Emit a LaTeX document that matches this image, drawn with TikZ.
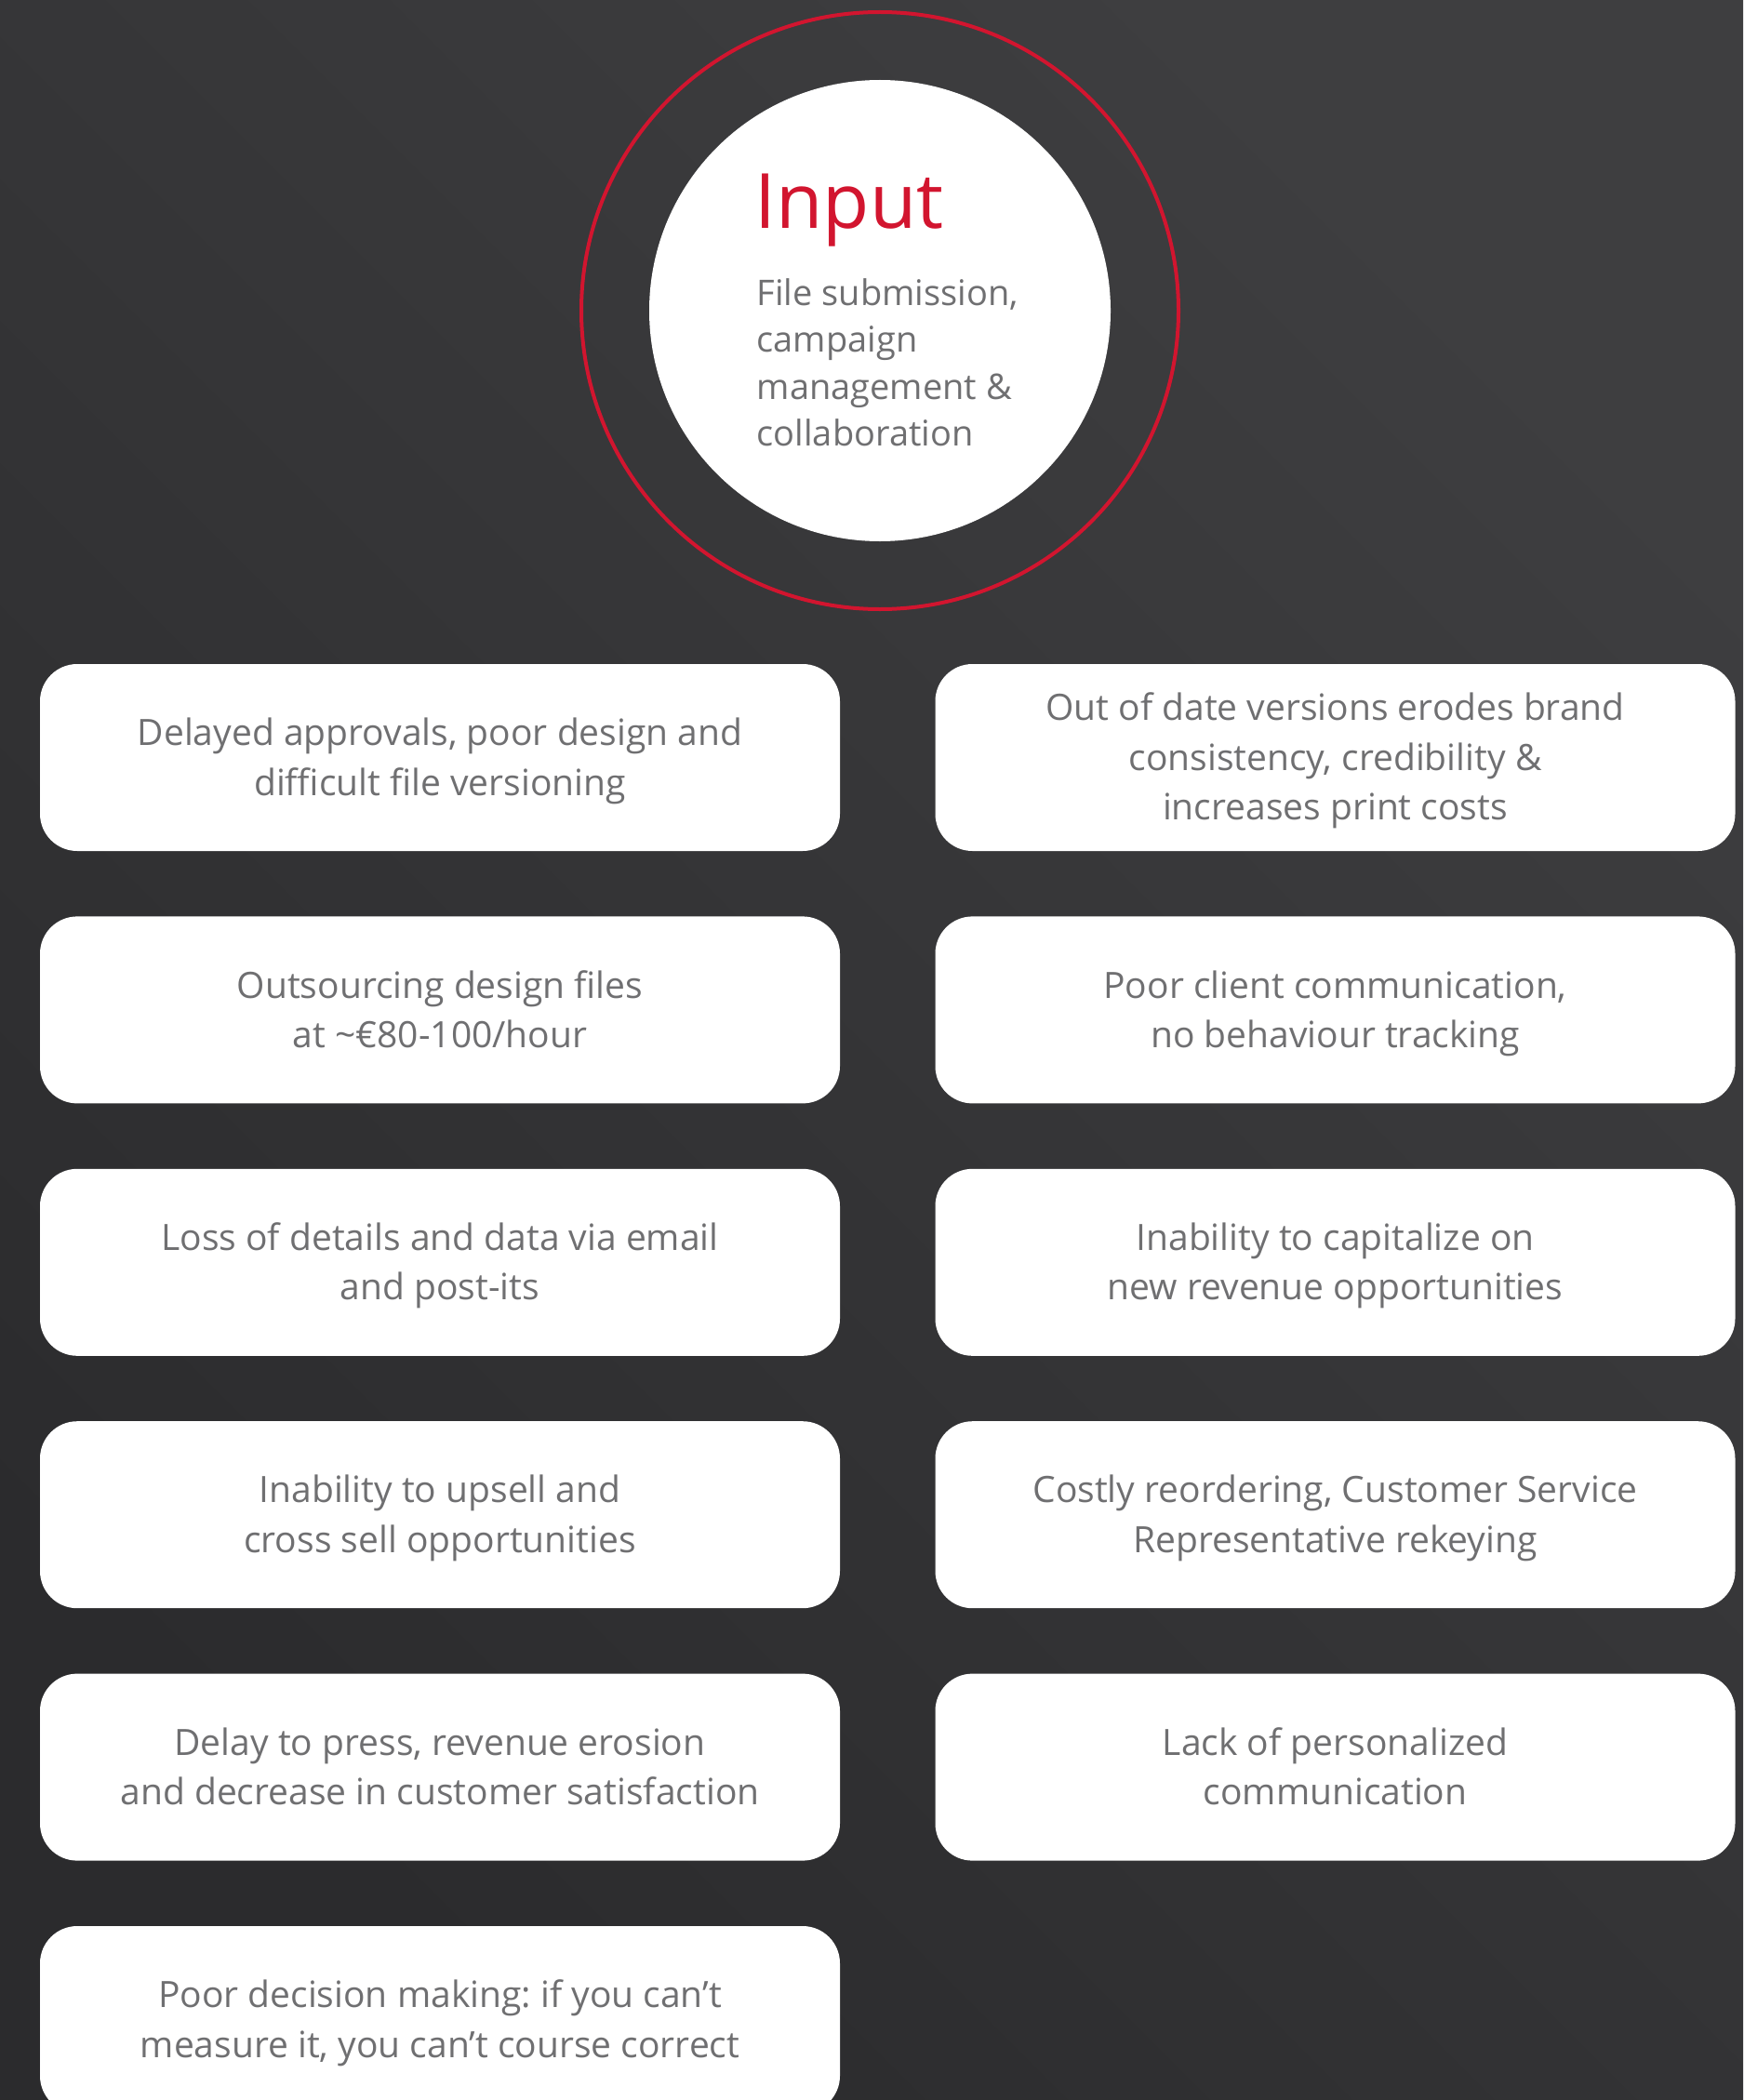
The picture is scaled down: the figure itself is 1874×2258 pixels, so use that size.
\documentclass[tikz,border=0pt]{standalone}
\usepackage{fontspec}
\setmainfont{Open Sans}
\definecolor{ringred}{HTML}{D2152F}
\definecolor{textgrey}{HTML}{6F6F71}
\definecolor{bgdark}{HTML}{2B2B2D}
\definecolor{bglight}{HTML}{3E3E40}
\begin{document}
\frenchspacing
\begin{tikzpicture}[x=1pt,y=-1pt,
  card/.style={rectangle, rounded corners=40pt, fill=white, minimum width=860pt,
    minimum height=201pt, inner sep=0pt, text=textgrey,
    font=\fontsize{39}{53.5}\selectfont\frenchspacing, text height=27.8pt, text depth=53.5pt},
  cardthree/.style={card, text depth=107pt}]
\clip (0,0) rectangle (1874,2258);
\shade[top color=bglight, bottom color=bgdark, shading angle=-45]
  (0,0) rectangle (1874,2258);
% top circle
\node (ring) [circle, draw=ringred, line width=4pt, minimum size=642pt, inner sep=0pt] at (946,334) {};
\node (disc) [circle, fill=white, minimum size=496pt, inner sep=0pt] at (946,334) {};
\node (title) [anchor=base west, inner sep=0pt, text=ringred, font=\fontsize{82}{92}\selectfont] at (811.5,246) {Input};
\node (sub) [anchor=base west, inner sep=0pt, text=textgrey, font=\fontsize{38}{50.5}\selectfont] at (813.5,328)
  {\begin{tabular}[t]{@{}l@{}}File submission,\\campaign\\management \&\\collaboration\end{tabular}};
% left column
\node (l1) [card] at (473,814.5) {\begin{tabular}[t]{@{}c@{}}Delayed approvals, poor design and\\difficult file versioning\end{tabular}};
\node (l2) [card] at (473,1085.9) {\begin{tabular}[t]{@{}c@{}}Outsourcing design files\\at \textasciitilde€80-100/hour\end{tabular}};
\node (l3) [card] at (473,1357.3) {\begin{tabular}[t]{@{}c@{}}Loss of details and data via email\\and post-its\end{tabular}};
\node (l4) [card] at (473,1628.7) {\begin{tabular}[t]{@{}c@{}}Inability to upsell and\\cross sell opportunities\end{tabular}};
\node (l5) [card] at (473,1900.1) {\begin{tabular}[t]{@{}c@{}}Delay to press, revenue erosion\\and decrease in customer satisfaction\end{tabular}};
\node (l6) [card] at (473,2171.5) {\begin{tabular}[t]{@{}c@{}}Poor decision making: if you can’t\\measure it, you can’t course correct\end{tabular}};
% right column
\node (r1) [cardthree] at (1435.5,814.5) {\begin{tabular}[t]{@{}c@{}}Out of date versions erodes brand\\consistency, credibility \&\\increases print costs\end{tabular}};
\node (r2) [card] at (1435.5,1085.9) {\begin{tabular}[t]{@{}c@{}}Poor client communication,\\no behaviour tracking\end{tabular}};
\node (r3) [card] at (1435.5,1357.3) {\begin{tabular}[t]{@{}c@{}}Inability to capitalize on\\new revenue opportunities\end{tabular}};
\node (r4) [card] at (1435.5,1628.7) {\begin{tabular}[t]{@{}c@{}}Costly reordering, Customer Service\\Representative rekeying\end{tabular}};
\node (r5) [card] at (1435.5,1900.1) {\begin{tabular}[t]{@{}c@{}}Lack of personalized\\communication\end{tabular}};
\end{tikzpicture}
\end{document}
